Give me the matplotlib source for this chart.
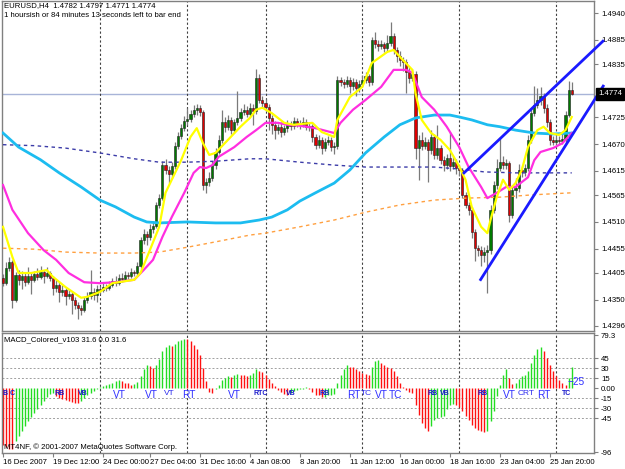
import matplotlib
matplotlib.use("Agg")
import matplotlib.pyplot as plt
import matplotlib.transforms as mtransforms
from matplotlib.patches import Rectangle

plt.rcParams['font.family'] = ['Liberation Sans', 'DejaVu Sans']

# ---------------- data ----------------
first_open = 1.4395
closes = [
    1.4384, 1.4415, 1.4428, 1.4350, 1.4401, 1.4391, 1.4399, 1.4386, 1.4399, 1.4391,
    1.4403, 1.4397, 1.4407, 1.4399, 1.4405, 1.4395, 1.4374, 1.4380, 1.4366, 1.4370,
    1.4358, 1.4362, 1.4350, 1.4339, 1.4333, 1.4329, 1.4350, 1.4358, 1.4366, 1.4360,
    1.4372, 1.4370, 1.4376, 1.4374, 1.4380, 1.4388, 1.4384, 1.4395, 1.4392, 1.4401,
    1.4399, 1.4407, 1.4405, 1.4419, 1.4473, 1.4485, 1.4479, 1.4496, 1.4502, 1.4545,
    1.4559, 1.4627, 1.4617, 1.4609, 1.4625, 1.4667, 1.4687, 1.4703, 1.4718, 1.4722,
    1.4732, 1.4741, 1.4745, 1.4736, 1.4586, 1.4592, 1.4600, 1.4627, 1.4654, 1.4679,
    1.4716, 1.4706, 1.4720, 1.4699, 1.4716, 1.4724, 1.4736, 1.4741, 1.4732, 1.4745,
    1.4738, 1.4806, 1.4761, 1.4755, 1.4747, 1.4724, 1.4710, 1.4699, 1.4706, 1.4695,
    1.4703, 1.4712, 1.4708, 1.4718, 1.4712, 1.4710, 1.4716, 1.4706, 1.4708, 1.4684,
    1.4669, 1.4679, 1.4662, 1.4675, 1.4679, 1.4665, 1.4667, 1.4802, 1.4798, 1.4794,
    1.4802, 1.4790, 1.4798, 1.4786, 1.4794, 1.4802, 1.4810, 1.4798, 1.4884, 1.4876,
    1.4872, 1.4876, 1.4868, 1.4878, 1.4893, 1.4864, 1.4852, 1.4843, 1.4839, 1.4819,
    1.4806, 1.4815, 1.4662, 1.4679, 1.4667, 1.4675, 1.4658, 1.4684, 1.4648, 1.4662,
    1.4638, 1.4627, 1.4642, 1.4625, 1.4633, 1.4621, 1.4617, 1.4566, 1.4545, 1.4535,
    1.4489, 1.4456, 1.4452, 1.4442, 1.4448, 1.4452, 1.4535, 1.4586, 1.4621, 1.4633,
    1.4627, 1.4631, 1.4524, 1.4576, 1.4580, 1.4617, 1.4613, 1.4621, 1.4679, 1.4734,
    1.4751, 1.4761, 1.4769, 1.4745, 1.4716, 1.4679, 1.4675, 1.4679, 1.4677, 1.4681,
    1.4730, 1.4782, 1.4774]
highs = [
    1.4402, 1.4428, 1.4438, 1.4432, 1.4408, 1.4412, 1.4410, 1.4405, 1.4418, 1.4404,
    1.4410, 1.4415, 1.4420, 1.4412, 1.4418, 1.4409, 1.4398, 1.4392, 1.4386, 1.4380,
    1.4375, 1.4372, 1.4366, 1.4356, 1.4345, 1.4340, 1.4355, 1.4366, 1.4412, 1.4375,
    1.4380, 1.4378, 1.4385, 1.4383, 1.4388, 1.4395, 1.4398, 1.4402, 1.4405, 1.4410,
    1.4408, 1.4415, 1.4412, 1.4428, 1.4480, 1.4495, 1.4492, 1.4505, 1.4512, 1.4552,
    1.4568, 1.4635, 1.4640, 1.4625, 1.4633, 1.4675, 1.4695, 1.4712, 1.4728, 1.4745,
    1.4740, 1.4750, 1.4752, 1.4750, 1.4740, 1.4600, 1.4612, 1.4635, 1.4662, 1.4688,
    1.4740, 1.4725, 1.4730, 1.4726, 1.4722, 1.4780, 1.4745, 1.4752, 1.4748, 1.4755,
    1.4752, 1.4825, 1.4815, 1.4770, 1.4762, 1.4752, 1.4730, 1.4718, 1.4712, 1.4715,
    1.4710, 1.4720, 1.4718, 1.4726, 1.4724, 1.4720, 1.4725, 1.4722, 1.4716, 1.4712,
    1.4690, 1.4688, 1.4684, 1.4682, 1.4686, 1.4684, 1.4675, 1.4810, 1.4808, 1.4805,
    1.4810, 1.4808, 1.4806, 1.4804, 1.4802, 1.4812, 1.4818, 1.4815, 1.4890, 1.4900,
    1.4885, 1.4884, 1.4880, 1.4895, 1.4921, 1.4898, 1.4870, 1.4862, 1.4850, 1.4845,
    1.4830, 1.4825, 1.4820, 1.4688, 1.4695, 1.4685, 1.4680, 1.4700, 1.4690, 1.4710,
    1.4668, 1.4645, 1.4650, 1.4695, 1.4645, 1.4640, 1.4628, 1.4622, 1.4572, 1.4552,
    1.4540, 1.4495, 1.4462, 1.4460, 1.4458, 1.4462, 1.4545, 1.4595, 1.4640, 1.4685,
    1.4645, 1.4640, 1.4636, 1.4585, 1.4600, 1.4630, 1.4625, 1.4630, 1.4688, 1.4745,
    1.4790, 1.4785, 1.4788, 1.4775, 1.4752, 1.4722, 1.4686, 1.4688, 1.4686, 1.4690,
    1.4738, 1.4800, 1.4797]
lows = [
    1.4378, 1.4380, 1.4410, 1.4333, 1.4345, 1.4380, 1.4372, 1.4378, 1.4382, 1.4362,
    1.4386, 1.4390, 1.4392, 1.4385, 1.4394, 1.4388, 1.4360, 1.4365, 1.4345, 1.4358,
    1.4340, 1.4352, 1.4320, 1.4330, 1.4310, 1.4318, 1.4325, 1.4344, 1.4352, 1.4350,
    1.4345, 1.4362, 1.4365, 1.4368, 1.4370, 1.4376, 1.4378, 1.4380, 1.4386, 1.4388,
    1.4392, 1.4395, 1.4398, 1.4400, 1.4415, 1.4465, 1.4462, 1.4472, 1.4488, 1.4498,
    1.4538, 1.4555, 1.4608, 1.4590, 1.4600, 1.4620, 1.4660, 1.4680, 1.4698, 1.4710,
    1.4715, 1.4725, 1.4730, 1.4728, 1.4575, 1.4570, 1.4585, 1.4595, 1.4620, 1.4650,
    1.4672, 1.4695, 1.4700, 1.4690, 1.4694, 1.4710, 1.4718, 1.4730, 1.4725, 1.4728,
    1.4710, 1.4732, 1.4755, 1.4745, 1.4738, 1.4700, 1.4690, 1.4680, 1.4692, 1.4685,
    1.4688, 1.4696, 1.4700, 1.4702, 1.4705, 1.4702, 1.4706, 1.4700, 1.4698, 1.4675,
    1.4660, 1.4662, 1.4650, 1.4655, 1.4668, 1.4655, 1.4650, 1.4660, 1.4790, 1.4785,
    1.4788, 1.4775, 1.4782, 1.4770, 1.4778, 1.4788, 1.4795, 1.4790, 1.4792, 1.4868,
    1.4862, 1.4865, 1.4860, 1.4862, 1.4872, 1.4855, 1.4840, 1.4830, 1.4820, 1.4776,
    1.4795, 1.4800, 1.4640, 1.4596, 1.4658, 1.4660, 1.4592, 1.4650, 1.4640, 1.4640,
    1.4630, 1.4615, 1.4620, 1.4615, 1.4620, 1.4608, 1.4605, 1.4560, 1.4538, 1.4525,
    1.4478, 1.4430, 1.4440, 1.4420, 1.4428, 1.4364, 1.4445, 1.4528, 1.4578, 1.4615,
    1.4618, 1.4620, 1.4510, 1.4518, 1.4560, 1.4572, 1.4602, 1.4605, 1.4615, 1.4672,
    1.4728, 1.4745, 1.4750, 1.4735, 1.4705, 1.4668, 1.4668, 1.4670, 1.4670, 1.4670,
    1.4675, 1.4725, 1.4771]

# moving averages (bar index, value)
yellow_idx = [0, 3, 5, 9, 14, 16, 20, 25, 27, 31, 35, 42, 44, 47, 50, 52, 57, 60, 62, 64,
              66, 68, 72, 76, 79, 81, 83, 86, 90, 93, 99, 102, 106, 107, 111, 115, 118, 123,
              125, 128, 131, 132, 134, 137, 140, 143, 146, 148, 150, 153, 155, 156, 158, 160,
              162, 164, 166, 168, 171, 173, 175, 178, 180, 182]
yellow_ma = [1.4500, 1.4438, 1.4405, 1.4405, 1.4411, 1.4397, 1.4376, 1.4354, 1.4356, 1.4366,
             1.4384, 1.4391, 1.4405, 1.4452, 1.4500, 1.4570, 1.4637, 1.4685, 1.4703, 1.4672,
             1.4648, 1.4652, 1.4679, 1.4706, 1.4724, 1.4741, 1.4745, 1.4734, 1.4714, 1.4710,
             1.4714, 1.4695, 1.4685, 1.4720, 1.4767, 1.4788, 1.4837, 1.4860, 1.4864, 1.4843,
             1.4823, 1.4775, 1.4720, 1.4693, 1.4679, 1.4658, 1.4624, 1.4597, 1.4541, 1.4500,
             1.4487, 1.4514, 1.4561, 1.4597, 1.4576, 1.4590, 1.4617, 1.4664, 1.4699, 1.4706,
             1.4693, 1.4689, 1.4699, 1.4726]
magenta_idx = [0, 3, 8, 13, 17, 21, 26, 31, 36, 42, 45, 48, 51, 54, 58, 61, 63, 65, 67, 69,
               74, 78, 81, 84, 88, 91, 95, 100, 106, 108, 112, 116, 121, 125, 129, 131, 134,
               138, 142, 146, 149, 153, 155, 158, 161, 164, 168, 170, 172, 176, 179, 182]
magenta_ma = [1.4586, 1.4535, 1.4487, 1.4452, 1.4432, 1.4405, 1.4386, 1.4384, 1.4386, 1.4391,
              1.4411, 1.4432, 1.4479, 1.4520, 1.4570, 1.4611, 1.4623, 1.4621, 1.4627, 1.4644,
              1.4664, 1.4685, 1.4699, 1.4714, 1.4714, 1.4710, 1.4708, 1.4703, 1.4693, 1.4714,
              1.4741, 1.4761, 1.4788, 1.4823, 1.4823, 1.4817, 1.4767, 1.4741, 1.4706, 1.4664,
              1.4623, 1.4582, 1.4559, 1.4570, 1.4582, 1.4582, 1.4602, 1.4637, 1.4654, 1.4662,
              1.4672, 1.4693]
cyan_idx = [0, 5, 12, 18, 25, 31, 36, 42, 46, 50, 59, 68, 76, 82, 86, 91, 95, 100, 106, 111,
            116, 122, 127, 132, 138, 143, 146, 150, 155, 159, 164, 170, 176, 182]
cyan_ma = [1.4693, 1.4664, 1.4638, 1.4611, 1.4582, 1.4555, 1.4541, 1.4520, 1.4510, 1.4508,
           1.4510, 1.4508, 1.4508, 1.4514, 1.4520, 1.4535, 1.4553, 1.4570, 1.4590, 1.4617,
           1.4652, 1.4685, 1.4710, 1.4724, 1.4730, 1.4730, 1.4726, 1.4720, 1.4710, 1.4706,
           1.4699, 1.4693, 1.4691, 1.4693]
navy_idx = [0, 10, 20, 31, 42, 50, 59, 68, 79, 84, 95, 106, 116, 127, 138, 146, 154, 164, 175, 182]
navy_ma = [1.4669, 1.4667, 1.4662, 1.4652, 1.4640, 1.4633, 1.4633, 1.4635, 1.4640, 1.4640,
           1.4633, 1.4627, 1.4623, 1.4623, 1.4623, 1.4619, 1.4613, 1.4611, 1.4611, 1.4611]
orange_idx = [0, 10, 20, 31, 42, 50, 59, 68, 79, 84, 95, 106, 116, 127, 138, 148, 159, 170, 182]
orange_ma = [1.4456, 1.4454, 1.4448, 1.4446, 1.4446, 1.4448, 1.4458, 1.4469, 1.4483, 1.4487,
             1.4500, 1.4514, 1.4530, 1.4545, 1.4555, 1.4559, 1.4561, 1.4566, 1.4570]

# trend channel lines
upper_line_x = [147.2, 192.3]
upper_line_y = [1.4609, 1.4884]
lower_line_x = [152.6, 192.3]
lower_line_y = [1.4389, 1.4792]

last_price = 1.4774

# MACD histogram
macd_hist = [
    -86, -89, -91, -92, -80, -72, -64, -57, -50, -44,
    -38, -32, -26, -20, -14, -9, -8, -12, -15, -17,
    -18, -19, -21, -22, -23, -20, -15, -10, -7, -4,
    -2, 1, 3, 5, 6, 8, 10, 12, 11, 8,
    7, 5, 6, 9, 18, 28, 34, 33, 30, 35,
    44, 55, 62, 64, 63, 66, 70, 72, 74, 73,
    70, 64, 58, 50, 30, 10, -6, -8, -2, 5,
    12, 15, 18, 17, 19, 21, 20, 19, 18, 20,
    22, 28, 26, 24, 20, 14, 8, 3, -3, -6,
    -9, -11, -8, -5, -3, -2, -1, 1, -2, -6,
    -10, -11, -14, -13, -11, -10, -9, 8, 20, 28,
    34, 32, 31, 28, 25, 22, 21, 20, 32, 40,
    42, 38, 34, 31, 30, 26, 18, 8, 2, -3,
    -6, -8, -25, -40, -52, -60, -64, -57, -48, -45,
    -43, -42, -32, -25, -24, -26, -28, -35, -42, -48,
    -55, -60, -63, -65, -66, -64, -50, -35, -12, 5,
    20, 28, 15, 6, 8, 14, 18, 19, 25, 38,
    50, 58, 62, 55, 45, 35, 25, 18, 12, 8,
    5, 15, 31.6]
macd_levels = [45, 30, 15, -15, -30, -45]

signal_labels = [
    ("B C", 0.0, -7.5, "s"), ("RB", 16.6, -7.5, "s"), ("VB", 24.0, -8.5, "s"),
    ("VT", 35.2, -10.5, "l"), ("VT", 45.4, -10.5, "l"), ("VT", 51.5, -8.0, "m"),
    ("RT", 57.3, -10.5, "l"), ("VT", 72.0, -10.5, "l"), ("RTC", 80.0, -7.5, "s"),
    ("VB", 90.5, -7.5, "s"), ("RB", 101.4, -7.5, "s"), ("RT", 110.0, -10.5, "l"),
    ("TC", 114.6, -8.0, "m"), ("VT", 119.0, -10.5, "l"), ("TC", 123.5, -10.5, "l"),
    ("RB", 135.7, -7.5, "s"), ("VB", 139.8, -7.5, "s"), ("RB", 151.7, -7.5, "s"),
    ("VT", 160.0, -10.5, "l"), ("CRT", 164.8, -8.0, "m"), ("RT", 170.9, -10.5, "l"),
    ("TC", 178.9, -7.5, "s"), ("\u221225", 180.6, 9.0, "l"),
]

separator_idx = [31, 59, 84, 115, 146, 177]
time_idx = [0, 16, 32, 47, 63, 79, 95, 111, 127, 143, 159, 175]
time_labels = ["16 Dec 2007", "19 Dec 12:00", "24 Dec 00:00", "27 Dec 04:00", "31 Dec 16:00",
               "4 Jan 08:00", "8 Jan 20:00", "11 Jan 12:00", "16 Jan 00:00", "18 Jan 16:00",
               "23 Jan 04:00", "25 Jan 20:00"]
price_ticks = [1.4940, 1.4885, 1.4835, 1.4725, 1.4670, 1.4615, 1.4565, 1.4510, 1.4455,
               1.4405, 1.4350, 1.4296]
price_labels = ["1.4940", "1.4885", "1.4835", "1.4725", "1.4670", "1.4615", "1.4565",
                "1.4510", "1.4455", "1.4405", "1.4350", "1.4296"]
macd_ticks = [79.3, 45, 30, 15, 0, -15, -30, -45, -96]
macd_tick_labels = ["79.3", "45", "30", "15", "0.00", "-15", "-30", "-45", "-96"]

header1 = "EURUSD,H4  1.4782 1.4797 1.4771 1.4774"
header2 = "1 hoursish or 84 minutes 13 seconds left to bar end"
macd_title = "MACD_Colored_v103 31.6 0.0 31.6"
copyright_text = "MT4NF, \u00a9 2001-2007 MetaQuotes Software Corp."

# ---------------- layout ----------------
W, H = 625, 469
fig = plt.figure(figsize=(W / 100, H / 100), dpi=100)
fig.patch.set_facecolor("white")


def px_axes(x0, y0, x1, y1):
    return fig.add_axes([x0 / W, 1 - y1 / H, (x1 - x0) / W, (y1 - y0) / H])


ax = px_axes(2, 1, 594, 331)
axm = px_axes(2, 333, 594, 453)
XL, XR = -0.32, 189.12
FS = 5.6
GRAY = "#808080"

for a in (ax, axm):
    a.set_xlim(XL, XR)
    a.set_facecolor("white")
    for s in a.spines.values():
        s.set_color(GRAY)
        s.set_linewidth(1.0)
ax.set_ylim(1.42856, 1.49647)
axm.set_ylim(-97.5, 82.5)

# ---------------- candles ----------------
opens = [first_open] + closes[:-1]
for i, (o, hi, lo, c) in enumerate(zip(opens, highs, lows, closes)):
    ax.vlines(i, lo, hi, color="#7a7a7a", lw=0.9, zorder=2)
    bot, top = min(o, c), max(o, c)
    col = "#007a00" if c >= o else "#e00000"
    hgt = max(top - bot, 0.00008)
    ax.add_patch(Rectangle((i - 0.34, bot), 0.68, hgt, facecolor=col,
                           edgecolor="#202020", lw=0.4, zorder=3))

# moving averages
ax.plot(orange_idx, orange_ma, color="#ffa040", lw=1.0, ls=(0, (2.5, 2.5)), zorder=4)
ax.plot(navy_idx, navy_ma, color="#3c3ca8", lw=1.0, ls=(0, (2.5, 2.5)), zorder=4)
ax.plot(cyan_idx, cyan_ma, color="#1cbcf0", lw=2.0, zorder=4)
ax.plot(magenta_idx, magenta_ma, color="#ff2ee0", lw=1.6, zorder=5)
ax.plot(yellow_idx, yellow_ma, color="#ffff00", lw=1.6, zorder=6)

# price line
ax.axhline(last_price, color="#a8b4d8", lw=1.0, zorder=1)

# channel
ax.plot(upper_line_x, upper_line_y, color="#1a1aff", lw=2.0, zorder=7, clip_on=False,
        solid_capstyle="butt")
ax.plot(lower_line_x, lower_line_y, color="#1a1aff", lw=2.0, zorder=7, clip_on=False,
        solid_capstyle="butt")

# separators
for s in separator_idx:
    for a in (ax, axm):
        a.axvline(s, color="#404040", lw=0.8, ls=(0, (2, 2)), zorder=1)

# price axis
ax.yaxis.tick_right()
ax.set_yticks(price_ticks)
ax.set_yticklabels(price_labels)
ax.tick_params(axis="y", direction="out", length=3, width=0.8, color=GRAY,
               labelsize=FS, pad=2)
ax.set_xticks([])
trans = mtransforms.blended_transform_factory(ax.transAxes, ax.transData)
ax.text(1.0 + 4 / 592, last_price, "1.4774", transform=trans, color="white",
        fontsize=FS, va="center", ha="left", zorder=10,
        bbox=dict(boxstyle="square,pad=0.3", fc="black", ec="black"))

# header text
fig.text(4 / W, 1 - 2 / H, header1, fontsize=FS, va="top", ha="left")
fig.text(4 / W, 1 - 12 / H, header2, fontsize=FS, va="top", ha="left")

# ---------------- MACD ----------------
prev = -84
for i, v in enumerate(macd_hist):
    col = "#22dd22" if v > prev else "#ff1010"
    axm.vlines(i, 0, v, color=col, lw=1.0, zorder=2)
    prev = v
for lv in macd_levels:
    axm.axhline(lv, color="#a0a0a0", lw=0.7, ls=(0, (2, 2)), zorder=1)

style = {"s": dict(fontsize=5.0, fontweight="bold", color="#1a1acc"),
         "m": dict(fontsize=6.0, color="#2a2aee"),
         "l": dict(fontsize=7.3, color="#3030ff")}
for txt, xi, yv, st in signal_labels:
    axm.text(xi, yv, txt, ha="left", va="center", zorder=5, **style[st])

axm.yaxis.tick_right()
axm.set_yticks(macd_ticks)
axm.set_yticklabels(macd_tick_labels)
axm.tick_params(axis="y", direction="out", length=3, width=0.8, color=GRAY,
                labelsize=FS, pad=2)
axm.set_xticks(time_idx)
axm.set_xticklabels(time_labels)
axm.tick_params(axis="x", direction="out", length=3, width=0.8, color=GRAY,
                labelsize=FS, pad=1.5)
for lbl in axm.get_xticklabels():
    lbl.set_ha("left")

axm.text(0.004, 0.97, macd_title, transform=axm.transAxes, fontsize=FS, va="top", ha="left")
axm.text(0.003, 0.02, copyright_text, transform=axm.transAxes, fontsize=FS,
         va="bottom", ha="left")

fig.savefig("out.png", dpi=100, facecolor="white")
